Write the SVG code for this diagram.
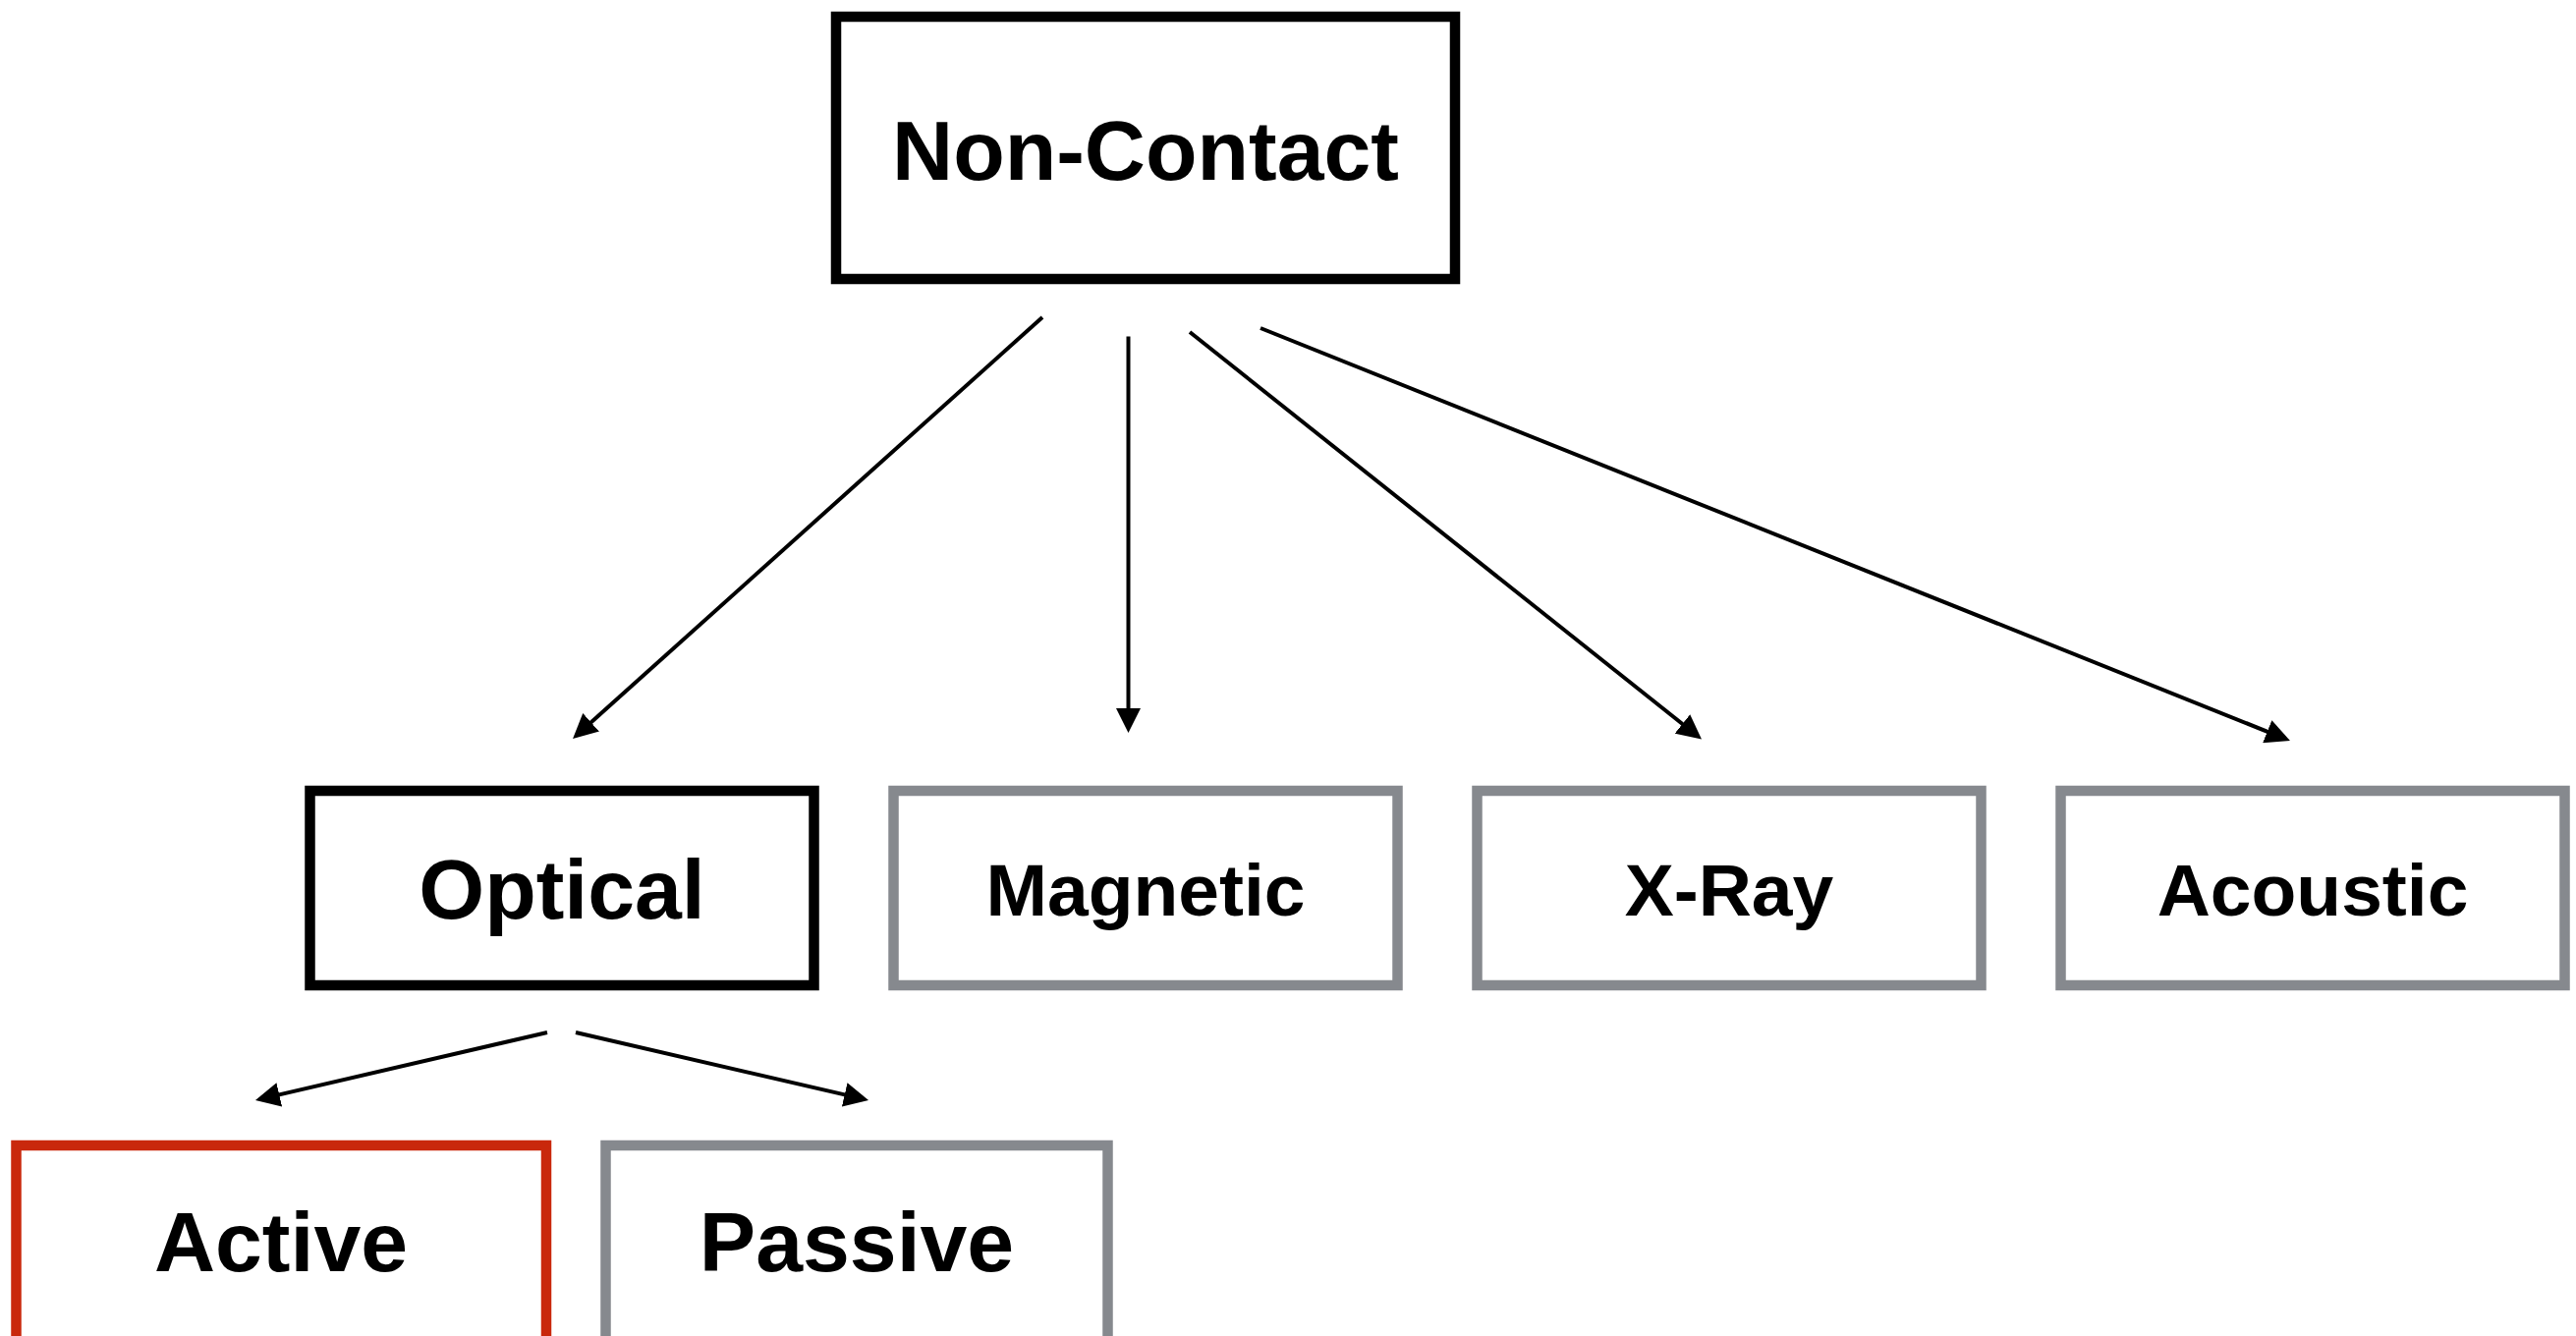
<svg xmlns="http://www.w3.org/2000/svg" width="2622" height="1360" viewBox="0 0 2622 1360">
<style>
.box{fill:#ffffff;stroke-width:10.5}
.main{stroke:#000000}
.gray{stroke:#86898e}
.red{stroke:#c9280c}
.t{font-family:"Liberation Sans",Arial,Helvetica,sans-serif;font-weight:bold;fill:#000000;text-anchor:middle}
.big{font-size:86px}
.small{font-size:75px}
.edge{stroke:#000000;stroke-width:4;fill:none;marker-end:url(#arr)}
</style>
<defs>
<marker id="arr" markerUnits="userSpaceOnUse" markerWidth="25" markerHeight="25" refX="19" refY="12.5" orient="auto">
<path d="M0,0 L25,12.5 L0,25 Z" fill="#000000"/>
</marker>
</defs>
<rect width="2622" height="1360" fill="#ffffff"/>
<g id="connectors">
<line class="edge" x1="1061" y1="323" x2="587.5" y2="748"/>
<line class="edge" x1="1148.5" y1="342.5" x2="1148.5" y2="740"/>
<line class="edge" x1="1211" y1="338" x2="1727.3" y2="748.8"/>
<line class="edge" x1="1283" y1="334" x2="2325.4" y2="751.8"/>
<line class="edge" x1="557" y1="1051" x2="265.8" y2="1118.6"/>
<line class="edge" x1="586" y1="1051" x2="878.2" y2="1118.6"/>
</g>
<g id="node-noncontact">
<rect class="box main" x="851" y="17" width="630" height="267"/>
<text class="t big" x="1166" y="183">Non-Contact</text>
</g>
<g id="node-optical">
<rect class="box main" x="315.5" y="805" width="513" height="198"/>
<text class="t big" x="572" y="935">Optical</text>
</g>
<g id="node-magnetic">
<rect class="box gray" x="909.5" y="805" width="513" height="198"/>
<text class="t small" x="1166" y="932">Magnetic</text>
</g>
<g id="node-xray">
<rect class="box gray" x="1503.5" y="805" width="513" height="198"/>
<text class="t small" x="1760" y="932">X-Ray</text>
</g>
<g id="node-acoustic">
<rect class="box gray" x="2097.5" y="805" width="513" height="198"/>
<text class="t small" x="2354" y="932">Acoustic</text>
</g>
<g id="node-active">
<rect class="box red" x="16.5" y="1166" width="539.5" height="210"/>
<text class="t big" x="286" y="1294">Active</text>
</g>
<g id="node-passive">
<rect class="box gray" x="616.5" y="1166" width="511" height="210"/>
<text class="t big" x="872" y="1294">Passive</text>
</g>
</svg>
